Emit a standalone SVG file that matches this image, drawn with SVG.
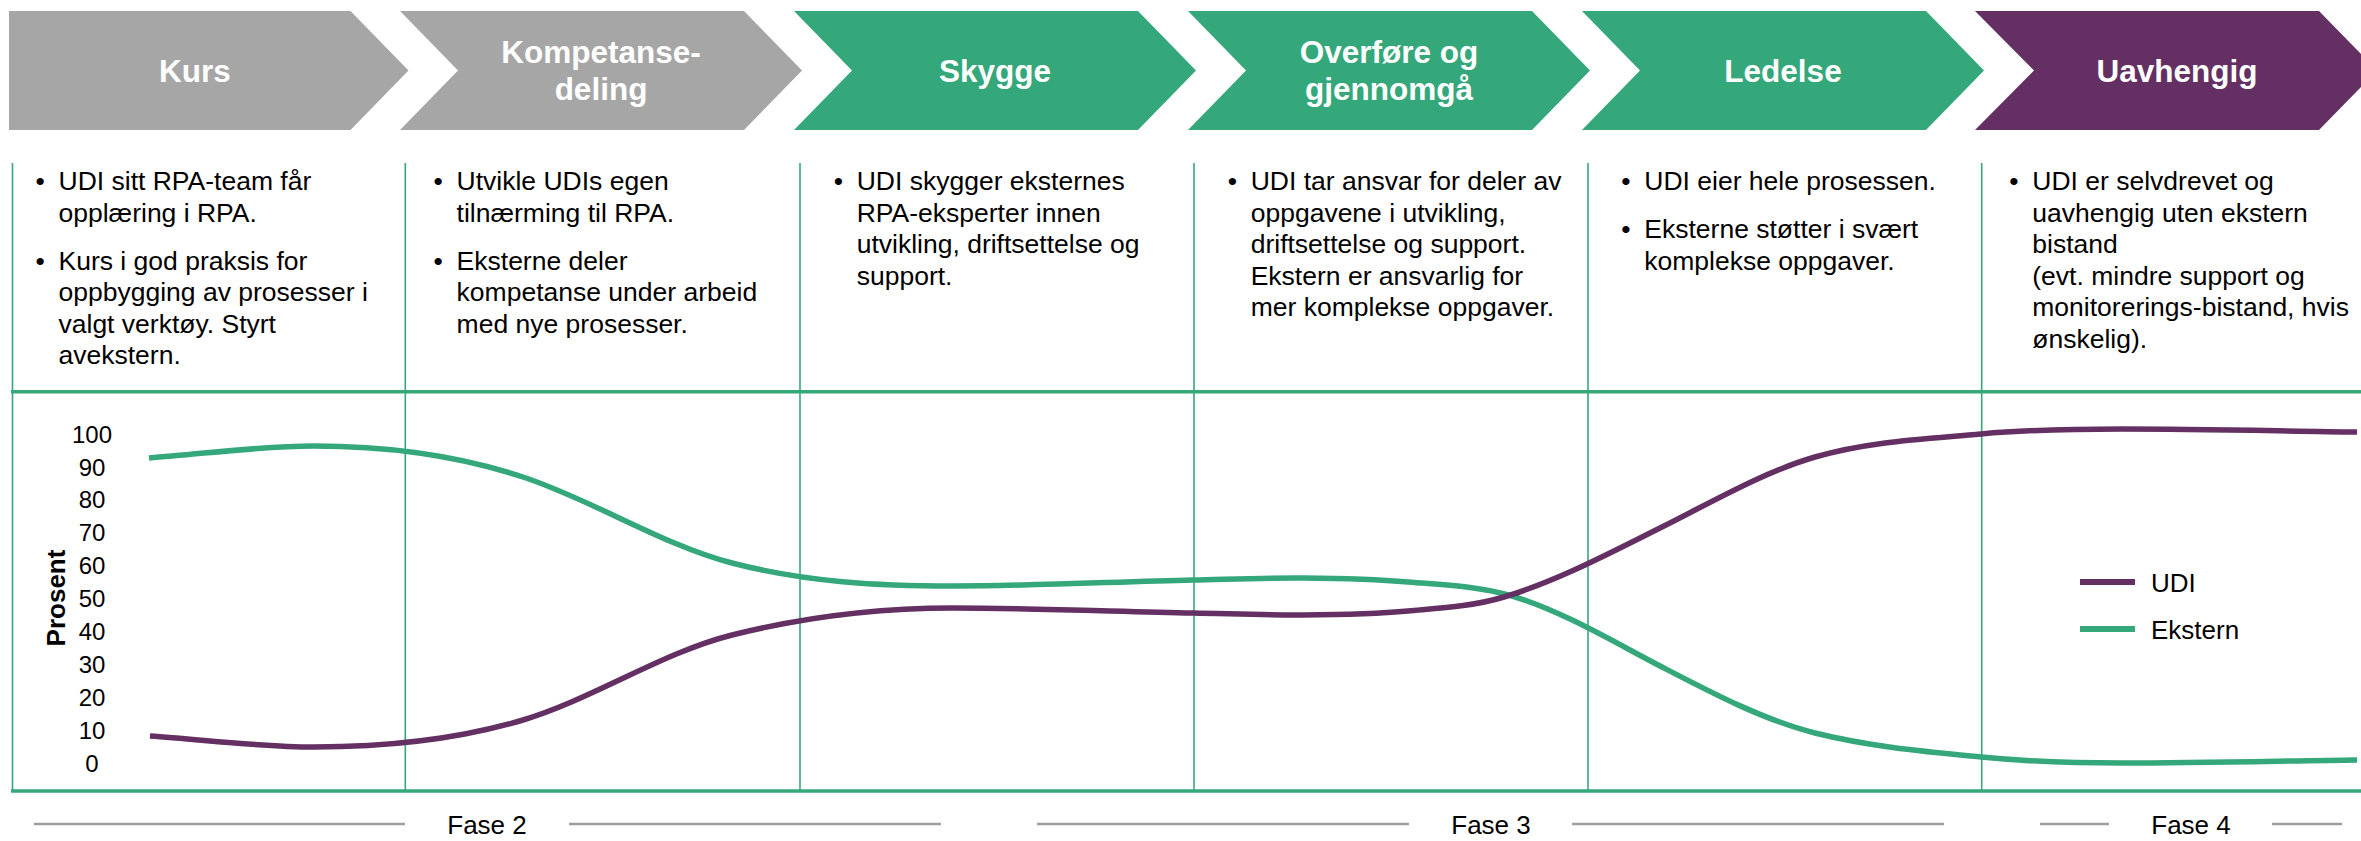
<svg xmlns="http://www.w3.org/2000/svg" width="2361" height="841" viewBox="0 0 2361 841">
<style>
text{font-family:"Liberation Sans",Arial,sans-serif;}
.ct{font-size:31.5px;font-weight:bold;fill:#fff;text-anchor:middle;}
.bt{font-size:26.5px;fill:#000;}
.ax{font-size:24px;fill:#000;text-anchor:middle;}
.fs{font-size:26px;fill:#000;text-anchor:middle;}
.lg{font-size:26px;fill:#000;}
.grey{fill:#A6A6A6;}
.green{fill:#34A77B;}
.purple{fill:#642F62;}
.vl{stroke:#34A77B;stroke-width:1.6;}
.hl{stroke:#34A77B;stroke-width:3.5;}
.gl{stroke:#9E9E9E;stroke-width:2.5;}
.cu{fill:none;stroke-width:5.5;}
</style>

<g id="chevrons">
  <g id="kurs">
    <polygon class="grey" points="9,11 350.5,11 408.5,70.5 350.5,130 9,130"/>
    <text class="ct" x="195" y="82">Kurs</text>
  </g>
  <g id="kompetansedeling">
    <polygon class="grey" points="400,11 744,11 802,70.5 744,130 400,130 458,70.5"/>
    <text class="ct" x="601" y="63">Kompetanse-</text>
    <text class="ct" x="601" y="100">deling</text>
  </g>
  <g id="skygge">
    <polygon class="green" points="794,11 1138,11 1196,70.5 1138,130 794,130 852,70.5"/>
    <text class="ct" x="995" y="82">Skygge</text>
  </g>
  <g id="overfore">
    <polygon class="green" points="1188,11 1532,11 1590,70.5 1532,130 1188,130 1246,70.5"/>
    <text class="ct" x="1389" y="63">Overføre og</text>
    <text class="ct" x="1389" y="99.5">gjennomgå</text>
  </g>
  <g id="ledelse">
    <polygon class="green" points="1582,11 1926,11 1984,70.5 1926,130 1582,130 1640,70.5"/>
    <text class="ct" x="1783" y="82">Ledelse</text>
  </g>
  <g id="uavhengig">
    <polygon class="purple" points="1975,11 2319,11 2377,70.5 2319,130 1975,130 2034,70.5"/>
    <text class="ct" x="2177" y="82">Uavhengig</text>
  </g>
</g>

<g id="grid">
  <line class="vl" x1="12.5" y1="163" x2="12.5" y2="791"/>
  <line class="vl" x1="405.3" y1="163" x2="405.3" y2="791"/>
  <line class="vl" x1="800" y1="163" x2="800" y2="791"/>
  <line class="vl" x1="1194" y1="163" x2="1194" y2="791"/>
  <line class="vl" x1="1588" y1="163" x2="1588" y2="791"/>
  <line class="vl" x1="1981.7" y1="163" x2="1981.7" y2="791"/>
  <line class="hl" x1="11" y1="391.7" x2="2361" y2="391.7"/>
  <line class="hl" x1="11" y1="791" x2="2361" y2="791"/>
</g>

<g id="col1">
  <text class="bt" x="35.5" y="190">•</text>
  <text class="bt" x="58.5" y="190">UDI sitt RPA-team får</text>
  <text class="bt" x="58.5" y="221.6">opplæring i RPA.</text>
  <text class="bt" x="35.5" y="269.6">•</text>
  <text class="bt" x="58.5" y="269.6">Kurs i god praksis for</text>
  <text class="bt" x="58.5" y="301.2">oppbygging av prosesser i</text>
  <text class="bt" x="58.5" y="332.8">valgt verktøy. Styrt</text>
  <text class="bt" x="58.5" y="364.4">avekstern.</text>
</g>
<g id="col2">
  <text class="bt" x="433.6" y="190">•</text>
  <text class="bt" x="456.6" y="190">Utvikle UDIs egen</text>
  <text class="bt" x="456.6" y="221.6">tilnærming til RPA.</text>
  <text class="bt" x="433.6" y="269.6">•</text>
  <text class="bt" x="456.6" y="269.6">Eksterne deler</text>
  <text class="bt" x="456.6" y="301.2">kompetanse under arbeid</text>
  <text class="bt" x="456.6" y="332.8">med nye prosesser.</text>
</g>
<g id="col3">
  <text class="bt" x="833.7" y="190">•</text>
  <text class="bt" x="856.7" y="190">UDI skygger eksternes</text>
  <text class="bt" x="856.7" y="221.6">RPA-eksperter innen</text>
  <text class="bt" x="856.7" y="253.2">utvikling, driftsettelse og</text>
  <text class="bt" x="856.7" y="284.8">support.</text>
</g>
<g id="col4">
  <text class="bt" x="1227.7" y="190">•</text>
  <text class="bt" x="1250.7" y="190">UDI tar ansvar for deler av</text>
  <text class="bt" x="1250.7" y="221.6">oppgavene i utvikling,</text>
  <text class="bt" x="1250.7" y="253.2">driftsettelse og support.</text>
  <text class="bt" x="1250.7" y="284.8">Ekstern er ansvarlig for</text>
  <text class="bt" x="1250.7" y="316.4">mer komplekse oppgaver.</text>
</g>
<g id="col5">
  <text class="bt" x="1621.3" y="190">•</text>
  <text class="bt" x="1644.3" y="190">UDI eier hele prosessen.</text>
  <text class="bt" x="1621.3" y="238">•</text>
  <text class="bt" x="1644.3" y="238">Eksterne støtter i svært</text>
  <text class="bt" x="1644.3" y="269.6">komplekse oppgaver.</text>
</g>
<g id="col6">
  <text class="bt" x="2009.3" y="190">•</text>
  <text class="bt" x="2032.3" y="190">UDI er selvdrevet og</text>
  <text class="bt" x="2032.3" y="221.6">uavhengig uten ekstern</text>
  <text class="bt" x="2032.3" y="253.2">bistand</text>
  <text class="bt" x="2032.3" y="284.8">(evt. mindre support og</text>
  <text class="bt" x="2032.3" y="316.4">monitorerings-bistand, hvis</text>
  <text class="bt" x="2032.3" y="348">ønskelig).</text>
</g>

<g id="axis">
  <text class="ax" x="92" y="442.6">100</text>
  <text class="ax" x="92" y="475.5">90</text>
  <text class="ax" x="92" y="508.4">80</text>
  <text class="ax" x="92" y="541.4">70</text>
  <text class="ax" x="92" y="574.3">60</text>
  <text class="ax" x="92" y="607.2">50</text>
  <text class="ax" x="92" y="640.2">40</text>
  <text class="ax" x="92" y="673.1">30</text>
  <text class="ax" x="92" y="706">20</text>
  <text class="ax" x="92" y="739">10</text>
  <text class="ax" x="92" y="772">0</text>
  <text transform="translate(65,598) rotate(-90)" style="font-size:26px;font-weight:bold;text-anchor:middle;">Prosent</text>
</g>

<g id="curves">
  <path id="ekstern" class="cu" stroke="#34A77B" d="M149,458 C204,454 259,446 314,446 C383.7,446 453.3,454 523,477 C592.7,500 662.3,544.9 732,563 C805.7,582.2 879.3,586 953,586 C1033,586 1113,581.8 1193,580 C1229.7,579.2 1266.3,577.7 1303,578 C1338,578.3 1373,579 1408,582 C1442.7,585 1477.3,585.6 1512,596 C1562,611 1612,641 1662,667 C1713,693.5 1764,720.2 1815,733 C1870.3,746.8 1925.7,751.6 1981,757 C2028,761.6 2075,763 2122,763 C2200.3,763 2278.7,761 2357,760"/>
  <path id="udi" class="cu" stroke="#642F62" d="M150,736 C204.7,739.7 259.3,747 314,747 C383.7,747 453.3,740.9 523,720 C592.7,699.1 662.3,652.4 732,635 C805.7,616.6 879.3,608 953,608 C1033,608 1113,611.4 1193,613 C1229.7,613.7 1266.3,615.3 1303,615 C1338,614.7 1373,614.2 1408,611 C1440,608.1 1472,606.6 1504,597 C1556.7,581.2 1609.3,553.3 1662,527 C1713,501.5 1764,471.8 1815,457 C1870.3,441 1925.7,439 1981,434 C2028,429.7 2075,429 2122,429 C2200.3,429 2278.7,431 2357,432"/>
</g>

<g id="legend">
  <line x1="2080" y1="582" x2="2135" y2="582" stroke="#642F62" stroke-width="6"/>
  <text class="lg" x="2151" y="591.5">UDI</text>
  <line x1="2080" y1="629" x2="2135" y2="629" stroke="#34A77B" stroke-width="6"/>
  <text class="lg" x="2151" y="638.5">Ekstern</text>
</g>

<g id="phases">
  <line class="gl" x1="34" y1="824" x2="405" y2="824"/>
  <text class="fs" x="487" y="833.5">Fase 2</text>
  <line class="gl" x1="569" y1="824" x2="941" y2="824"/>
  <line class="gl" x1="1037" y1="824" x2="1409" y2="824"/>
  <text class="fs" x="1491" y="833.5">Fase 3</text>
  <line class="gl" x1="1572" y1="824" x2="1944" y2="824"/>
  <line class="gl" x1="2040" y1="824" x2="2109" y2="824"/>
  <text class="fs" x="2191" y="833.5">Fase 4</text>
  <line class="gl" x1="2272" y1="824" x2="2342" y2="824"/>
</g>
</svg>
